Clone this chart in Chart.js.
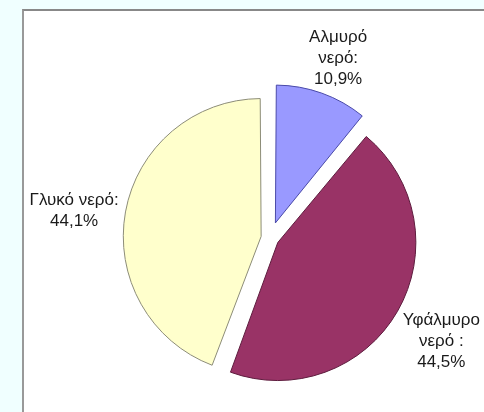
<!DOCTYPE html>
<html>
<head>
<meta charset="utf-8">
<script src="https://cdn.jsdelivr.net/npm/chart.js@4"></script>
<style>
  html, body { margin: 0; padding: 0; }
  body { width: 484px; height: 412px; background: #f0ffff; position: relative; overflow: hidden; }
  #panel { position: absolute; left: 22px; top: 9px; width: 500px; height: 450px;
           background: #fff; border-left: 2px solid #999; border-top: 2px solid #888; }
  #grafico { position: absolute; left: 0; top: 0; }
</style>
</head>
<body>
<div id="panel"></div>
<canvas id="grafico" width="484" height="412"></canvas>
<script>
// dados do gráfico
const categorias = ['Αλμυρό νερό', 'Υφάλμυρο νερό', 'Γλυκό νερό'];
const valores = [10.9, 44.5, 44.1];
const linhasRotulo = [['Αλμυρό', 'νερό:'], ['Υφάλμυρο', 'νερό :'], ['Γλυκό νερό:']];
const cores = ['#9999ff', '#993366', '#ffffcc'];
const bordas = ['#4a4aa8', '#5e1c3e', '#8c8c78'];
const destaque = [64, 36, 36]; // o Chart.js desloca offset/4

// posição dos rótulos (distância do centro + pequeno ajuste)
const rotuloPos = [
  { dist: 190, dx: 4, dy: -1 },
  { dist: 200, dx: -2, dy: 3 },
  { dist: 197, dx: -2, dy: 7 }
];

const rotulosPlugin = {
  id: 'rotulos',
  afterDatasetsDraw(chart) {
    const ctx = chart.ctx;
    const meta = chart.getDatasetMeta(0);
    ctx.save();
    ctx.font = '17px "Liberation Sans", Arial, sans-serif';
    ctx.fillStyle = '#1a1a1a';
    ctx.textAlign = 'center';
    ctx.textBaseline = 'alphabetic';
    meta.data.forEach((arc, i) => {
      const meio = (arc.startAngle + arc.endAngle) / 2;
      const p = rotuloPos[i];
      const cx = arc.x + Math.cos(meio) * p.dist + p.dx;
      const cy = arc.y + Math.sin(meio) * p.dist + p.dy;
      const linhas = linhasRotulo[i].concat([valores[i].toFixed(1).replace('.', ',') + '%']);
      const lh = 21;
      linhas.forEach((txt, j) => {
        ctx.fillText(txt, cx, cy + (j - (linhas.length - 1) / 2) * lh + 5);
      });
    });
    ctx.restore();
  }
};

const ctx = document.getElementById('grafico').getContext('2d');
new Chart(ctx, {
  type: 'pie',
  data: {
    labels: categorias,
    datasets: [{
      data: valores,
      backgroundColor: cores,
      borderColor: bordas,
      borderWidth: 1,
      offset: destaque,
      hoverOffset: 0
    }]
  },
  options: {
    responsive: false,
    animation: false,
    devicePixelRatio: 1,
    layout: { padding: { left: 105.5, top: 73.5, right: 49.5, bottom: 9.5 } },
    plugins: {
      legend: { display: false },
      tooltip: { enabled: false }
    }
  },
  plugins: [rotulosPlugin]
});
</script>
</body>
</html>
